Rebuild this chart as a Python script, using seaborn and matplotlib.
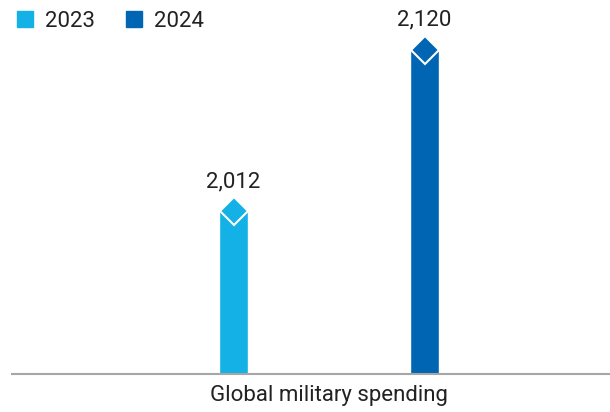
import matplotlib
matplotlib.use('Agg')
import matplotlib.pyplot as plt
from matplotlib.patches import Patch
import seaborn as sns
import pandas as pd

# Chart data
category = ['Global military spending', 'Global military spending']
years = ['2023', '2024']
spending = [2012, 2120]
colors = ['#14b1e6', '#0066b3']

df = pd.DataFrame({'category': category, 'year': years, 'spending': spending})

sns.set_theme(style='white')
plt.rcParams['font.family'] = ['Roboto', 'DejaVu Sans']
text_color = '#222222'
fs = 16

fig = plt.figure(figsize=(6.1, 4.12), dpi=100)
ax = fig.add_axes([12 / 610, 38 / 412, 598 / 610, 354 / 412])

sns.barplot(data=df, x='category', y='spending', hue='year', palette=colors,
            saturation=1, width=0.8, legend=False, ax=ax)

# narrow bars, diamond caps and value labels
bar_w = 0.0607
for patch in ax.patches:
    cx = patch.get_x() + patch.get_width() / 2
    h = patch.get_height()
    patch.set_x(cx - bar_w / 2)
    patch.set_width(bar_w)
    ax.plot(cx, h, marker='D', ms=14.5, color=patch.get_facecolor(),
            mec='white', mew=1.5, clip_on=False, zorder=3)
    ax.annotate(f'{h:,.0f}', (cx, h), xytext=(0, 24), textcoords='offset pixels',
                ha='center', va='baseline', fontsize=fs, color=text_color)

ax.set_xlim(-0.664, 0.588)
ax.set_ylim(1903, 1903 + 354 / 1.495)
ax.set_xlabel('')
ax.set_ylabel('')
ax.set_yticks([])
for side in ['top', 'right', 'left']:
    ax.spines[side].set_visible(False)
ax.spines['bottom'].set_color('#a6a6a6')
ax.spines['bottom'].set_linewidth(1.5)
ax.tick_params(axis='x', length=0, pad=8, labelsize=fs, labelcolor=text_color)

handles = [Patch(color=c, label=y) for c, y in zip(colors, years)]
fig.legend(handles=handles, loc='upper left', bbox_to_anchor=(17 / 610, 1 - 11 / 412),
           ncol=2, frameon=False, fontsize=fs, borderpad=0, borderaxespad=0,
           handlelength=0.72, handleheight=0.72, handletextpad=0.54,
           columnspacing=1.4, labelcolor=text_color)

fig.savefig('out.png', dpi=100)
